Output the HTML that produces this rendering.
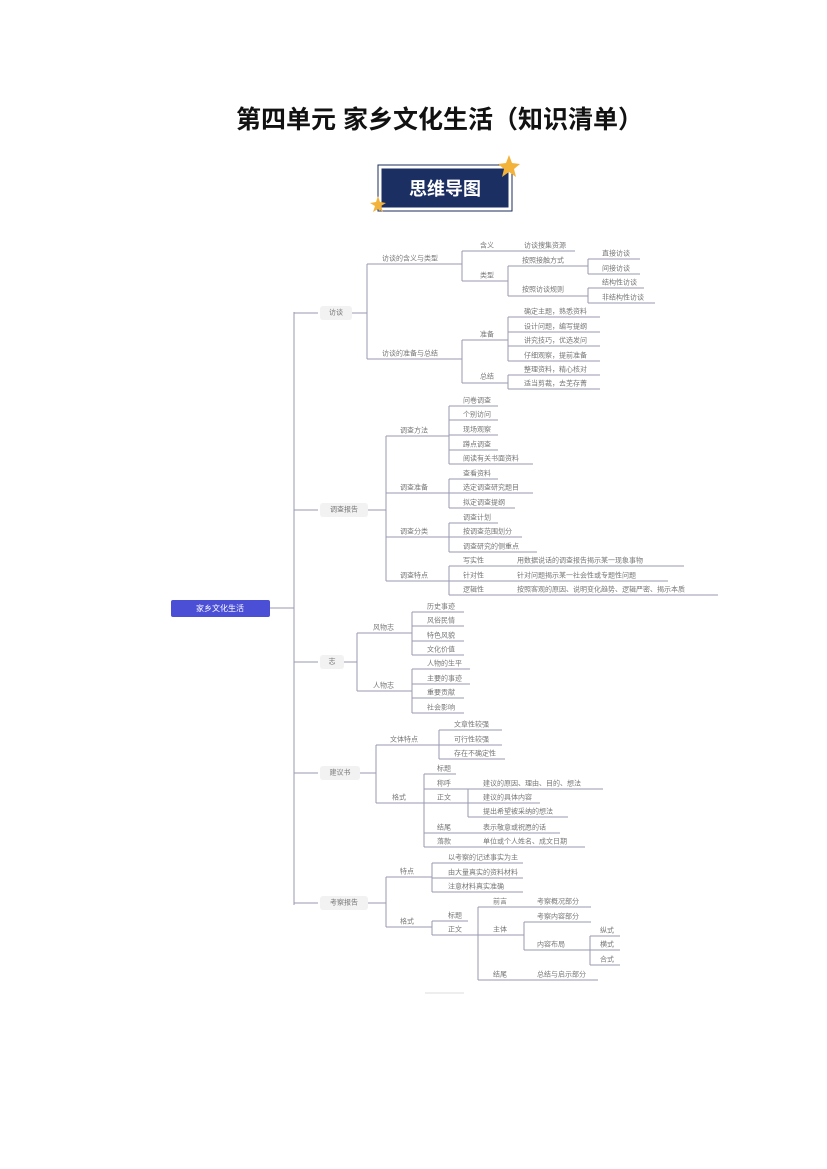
<!DOCTYPE html>
<html><head><meta charset="utf-8">
<style>
html,body{margin:0;padding:0;background:#fff;}
body{width:827px;height:1169px;position:relative;overflow:hidden;font-family:"Liberation Sans","Noto Sans CJK SC",sans-serif;}
.title{position:absolute;top:100px;left:0;width:827px;padding-left:52px;box-sizing:border-box;text-align:center;font-size:25px;font-weight:bold;color:#111;font-family:"Liberation Sans","Noto Sans CJK SC",sans-serif;white-space:nowrap;}
svg{position:absolute;left:0;top:0;}
svg text{font-family:"Liberation Sans","Noto Sans CJK SC",sans-serif;font-size:7px;fill:#777;dominant-baseline:central;}
.u{stroke:#9a9ab0;stroke-width:1;fill:none;}
.c{stroke:#9a9ab0;stroke-width:1;fill:none;}
</style></head><body>
<div class="title">第四单元 家乡文化生活（知识清单）</div>
<svg width="827" height="1169" viewBox="0 0 827 1169">
<rect x="378" y="165" width="134" height="46" fill="#fff" stroke="#1d2d5c" stroke-width="1"/>
<rect x="381" y="168" width="128" height="40" fill="#1b2f63" stroke="#fff" stroke-width="1"/>
<text x="445" y="189" style="font-size:18px;font-weight:bold;fill:#fff;text-anchor:middle;">思维导图</text>
<polygon points="509,155 512,163 520,164 514,169 516,177 509,172 502,177 504,169 498,164 506,163" fill="#f3b23a"/>
<polygon points="378,196 380,202 386,203 381,206 383,212 378,209 373,212 375,206 370,203 376,202" fill="#f3b23a"/>

<rect x="171" y="600" width="99" height="17" rx="2" fill="#4b4fd6"/>
<text x="220" y="608.5" style="fill:#fff;font-size:8px;text-anchor:middle;">家乡文化生活</text>
<path class="c" d="M270 608 H294 M294 312 V905"/>

<path class="c" d="M294 313 H318 M294 510 H318 M294 662 H318 M294 773 H318 M294 903 H318"/>
<rect x="320" y="306" width="32" height="14" rx="3" fill="#f2f2f2"/><text x="336" y="313" style="text-anchor:middle">访谈</text>
<rect x="320" y="503" width="48" height="14" rx="3" fill="#f2f2f2"/><text x="344" y="510" style="text-anchor:middle">调查报告</text>
<rect x="320" y="655" width="24" height="14" rx="3" fill="#f2f2f2"/><text x="332" y="662" style="text-anchor:middle">志</text>
<rect x="320" y="766" width="40" height="14" rx="3" fill="#f2f2f2"/><text x="340" y="773" style="text-anchor:middle">建议书</text>
<rect x="320" y="896" width="48" height="14" rx="3" fill="#f2f2f2"/><text x="344" y="903" style="text-anchor:middle">考察报告</text>

<path class="c" d="M352 313 H367 M367 264 V359"/>
<text x="382" y="259">访谈的含义与类型</text><path class="u" d="M367 264 H462"/>
<text x="382" y="354">访谈的准备与总结</text><path class="u" d="M367 359 H462"/>
<path class="c" d="M462 251 V281"/>
<text x="480" y="246">含义</text><path class="u" d="M462 251 H575"/><text x="524" y="246">访谈搜集资源</text>
<text x="480" y="276">类型</text><path class="u" d="M462 281 H508"/>
<path class="c" d="M508 266 V296"/>
<text x="522" y="261">按照接触方式</text><path class="u" d="M508 266 H588"/>
<text x="522" y="290">按照访谈规则</text><path class="u" d="M508 296 H588"/>
<path class="c" d="M588 259 V274 M588 288 V303"/>
<text x="602" y="254">直接访谈</text><path class="u" d="M588 259 H640"/>
<text x="602" y="269">间接访谈</text><path class="u" d="M588 274 H640"/>
<text x="602" y="283">结构性访谈</text><path class="u" d="M588 288 H644"/>
<text x="602" y="298">非结构性访谈</text><path class="u" d="M588 303 H655"/>
<path class="c" d="M462 340 V383"/>
<text x="480" y="335">准备</text><path class="u" d="M462 340 H508"/>
<path class="c" d="M508 317 V361"/>
<text x="524" y="312">确定主题，熟悉资料</text><path class="u" d="M508 317 H600"/>
<text x="524" y="327">设计问题，编写提纲</text><path class="u" d="M508 332 H600"/>
<text x="524" y="341">讲究技巧，优选发问</text><path class="u" d="M508 346 H600"/>
<text x="524" y="356">仔细观察，提前准备</text><path class="u" d="M508 361 H600"/>
<text x="480" y="377">总结</text><path class="u" d="M462 383 H508"/>
<path class="c" d="M508 375 V389"/>
<text x="524" y="370">整理资料，精心核对</text><path class="u" d="M508 375 H600"/>
<text x="524" y="384">适当剪裁，去芜存菁</text><path class="u" d="M508 389 H600"/>

<path class="c" d="M368 510 H386 M386 436 V581"/>
<text x="400" y="431">调查方法</text><path class="u" d="M386 436 H449"/>
<text x="400" y="488">调查准备</text><path class="u" d="M386 493 H449"/>
<text x="400" y="532">调查分类</text><path class="u" d="M386 537 H449"/>
<text x="400" y="576">调查特点</text><path class="u" d="M386 581 H449"/>
<path class="c" d="M449 406 V464 M449 479 V508 M449 523 V552 M449 566 V595"/>
<text x="463" y="401">问卷调查</text><path class="u" d="M449 406 H498"/>
<text x="463" y="415">个别访问</text><path class="u" d="M449 420 H498"/>
<text x="463" y="430">现场观察</text><path class="u" d="M449 435 H498"/>
<text x="463" y="445">蹲点调查</text><path class="u" d="M449 450 H498"/>
<text x="463" y="459">阅读有关书面资料</text><path class="u" d="M449 464 H533"/>
<text x="463" y="474">查看资料</text><path class="u" d="M449 479 H498"/>
<text x="463" y="488">选定调查研究题目</text><path class="u" d="M449 493 H533"/>
<text x="463" y="503">拟定调查提纲</text><path class="u" d="M449 508 H515"/>
<text x="463" y="518">调查计划</text><path class="u" d="M449 523 H498"/>
<text x="463" y="532">按调查范围划分</text><path class="u" d="M449 537 H522"/>
<text x="463" y="547">调查研究的侧重点</text><path class="u" d="M449 552 H537"/>
<text x="463" y="561">写实性</text><text x="517" y="561">用数据说话的调查报告揭示某一现象事物</text><path class="u" d="M449 566 H684"/>
<text x="463" y="576">针对性</text><text x="517" y="576">针对问题揭示某一社会性或专题性问题</text><path class="u" d="M449 581 H668"/>
<text x="463" y="590">逻辑性</text><text x="517" y="590">按照客观的原因、说明变化趋势、逻辑严密、揭示本质</text><path class="u" d="M449 595 H718"/>

<path class="c" d="M344 662 H357 M357 633 V691"/>
<text x="373" y="628">风物志</text><path class="u" d="M357 633 H412"/>
<text x="373" y="686">人物志</text><path class="u" d="M357 691 H412"/>
<path class="c" d="M412 612 V655 M412 669 V713"/>
<text x="427" y="607">历史事迹</text><path class="u" d="M412 612 H464"/>
<text x="427" y="621">风俗民情</text><path class="u" d="M412 626 H464"/>
<text x="427" y="636">特色风貌</text><path class="u" d="M412 641 H464"/>
<text x="427" y="650">文化价值</text><path class="u" d="M412 655 H464"/>
<text x="427" y="664">人物的生平</text><path class="u" d="M412 669 H470"/>
<text x="427" y="679">主要的事迹</text><path class="u" d="M412 684 H470"/>
<text x="427" y="693">重要贡献</text><path class="u" d="M412 698 H464"/>
<text x="427" y="708">社会影响</text><path class="u" d="M412 713 H464"/>

<path class="c" d="M360 773 H376 M376 745 V803"/>
<text x="390" y="740">文体特点</text><path class="u" d="M376 745 H439"/>
<text x="392" y="798">格式</text><path class="u" d="M376 803 H424"/>
<path class="c" d="M439 730 V759"/>
<text x="454" y="725">文章性较强</text><path class="u" d="M439 730 H502"/>
<text x="454" y="740">可行性较强</text><path class="u" d="M439 745 H502"/>
<text x="454" y="754">存在不确定性</text><path class="u" d="M439 759 H505"/>
<path class="c" d="M424 774 V847"/>
<text x="437" y="769">标题</text><path class="u" d="M424 774 H456"/>
<text x="437" y="784">称呼</text><text x="483" y="784">建议的原因、理由、目的、想法</text><path class="u" d="M424 789 H603"/>
<text x="437" y="798">正文</text><path class="u" d="M424 803 H468"/>
<path class="c" d="M468 789 V817"/>
<text x="483" y="798">建议的具体内容</text><path class="u" d="M468 803 H540"/>
<text x="483" y="812">提出希望被采纳的想法</text><path class="u" d="M468 817 H568"/>
<text x="437" y="828">结尾</text><text x="483" y="828">表示敬意或祝愿的话</text><path class="u" d="M424 833 H560"/>
<text x="437" y="842">落款</text><text x="483" y="842">单位或个人姓名、成文日期</text><path class="u" d="M424 847 H585"/>

<path class="c" d="M368 903 H386 M386 877 V927"/>
<text x="400" y="872">特点</text><path class="u" d="M386 877 H432"/>
<text x="400" y="922">格式</text><path class="u" d="M386 927 H432"/>
<path class="c" d="M432 863 V892"/>
<text x="448" y="858">以考察的记述事实为主</text><path class="u" d="M432 863 H523"/>
<text x="448" y="873">由大量真实的资料材料</text><path class="u" d="M432 878 H523"/>
<text x="448" y="887">注意材料真实准确</text><path class="u" d="M432 892 H523"/>
<path class="c" d="M432 921 V935"/>
<text x="448" y="916">标题</text><path class="u" d="M432 921 H468"/>
<text x="448" y="930">正文</text><path class="u" d="M432 935 H478"/>
<path class="c" d="M478 907 V980"/>
<text x="493" y="902">前言</text><text x="537" y="902">考察概况部分</text><path class="u" d="M478 907 H591"/>
<text x="493" y="930">主体</text><path class="u" d="M478 935 H524"/>
<path class="c" d="M524 922 V950"/>
<text x="537" y="917">考察内容部分</text><path class="u" d="M524 922 H591"/>
<text x="537" y="945">内容布局</text><path class="u" d="M524 950 H590"/>
<path class="c" d="M590 936 V965"/>
<text x="600" y="931">纵式</text><path class="u" d="M590 936 H620"/>
<text x="600" y="945">横式</text><path class="u" d="M590 950 H620"/>
<text x="600" y="960">合式</text><path class="u" d="M590 965 H620"/>
<text x="493" y="975">结尾</text><text x="537" y="975">总结与启示部分</text><path class="u" d="M478 980 H598"/>
<path d="M425 993 H464" stroke="#ddd" stroke-width="1"/>
</svg>
</body></html>
